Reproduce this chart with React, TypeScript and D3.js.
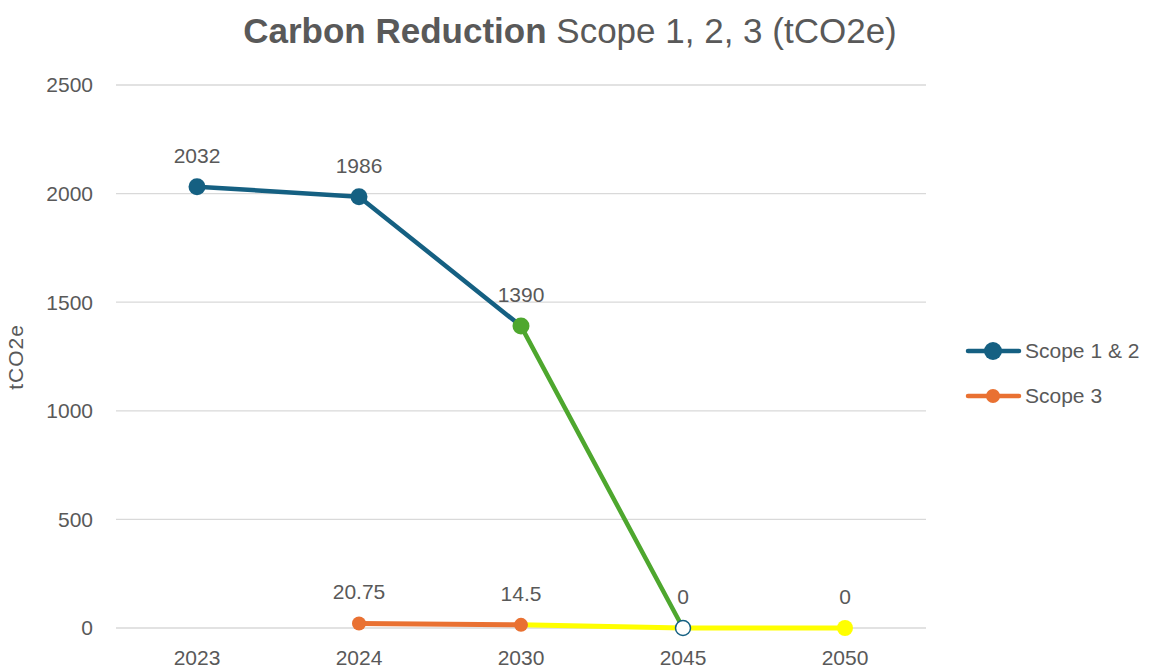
import { useEffect, useRef } from "react";
import * as d3 from "d3";

const years = ["2023", "2024", "2030", "2045", "2050"];
const scope12 = [2032, 1986, 1390, 0, null];
const scope3 = [null, 20.75, 14.5, 0, 0];
const yTicks = [0, 500, 1000, 1500, 2000, 2500];
const seriesNames = ["Scope 1 & 2", "Scope 3"];

// marker colour per point, and colour of the segment that ends at that point
const scope12Marker = ["#156082", "#156082", "#4EA72E", "#FFFFFF", "#FFFF00"];
const scope12Segment = ["#156082", "#156082", "#156082", "#4EA72E", "#FFFF00"];
const scope3Marker = ["#E97132", "#E97132", "#E97132", "#FFFF00", "#FFFF00"];
const scope3Segment = ["#E97132", "#E97132", "#E97132", "#FFFF00", "#FFFF00"];

const TEXT = "#595959";
const FONT = "'Liberation Sans', Arial, sans-serif";
const FS = 21;

export default function App() {
  const ref = useRef<SVGSVGElement>(null);

  useEffect(() => {
    const svg = d3.select(ref.current);
    svg.selectAll("*").remove();

    const width = 1153, height = 668;
    const margin = { top: 85, right: 227, bottom: 40, left: 116 };

    const x = d3.scaleBand().domain(years).range([margin.left, width - margin.right]);
    const y = d3.scaleLinear().domain([0, 2500]).range([height - margin.bottom, margin.top]);
    const cx = (yr: string) => (x(yr) as number) + x.bandwidth() / 2;

    svg.append("rect").attr("width", width).attr("height", height).attr("fill", "#fff");

    // title
    const title = svg.append("text")
      .attr("x", 570).attr("y", 43)
      .attr("text-anchor", "middle")
      .attr("font-family", FONT)
      .attr("font-size", 35)
      .attr("fill", TEXT);
    title.append("tspan").attr("font-weight", "bold").text("Carbon Reduction");
    title.append("tspan").text(" Scope 1, 2, 3 (tCO2e)");

    // grid
    svg.append("g").selectAll("line").data(yTicks).join("line")
      .attr("x1", margin.left).attr("x2", width - margin.right)
      .attr("y1", d => y(d)).attr("y2", d => y(d))
      .attr("stroke", "#d9d9d9").attr("stroke-width", 1.3);

    // y labels
    svg.append("g").selectAll("text").data(yTicks).join("text")
      .attr("x", 93).attr("y", d => y(d)).attr("dy", "0.35em")
      .attr("text-anchor", "end")
      .attr("font-family", FONT).attr("font-size", FS).attr("fill", TEXT)
      .text(d => d);

    // x labels
    svg.append("g").selectAll("text").data(years).join("text")
      .attr("x", d => cx(d)).attr("y", 665)
      .attr("text-anchor", "middle")
      .attr("font-family", FONT).attr("font-size", FS).attr("fill", TEXT)
      .text(d => d);

    // y title
    svg.append("text")
      .attr("transform", `translate(16,357) rotate(-90)`)
      .attr("dy", "0.35em")
      .attr("text-anchor", "middle")
      .attr("font-family", FONT).attr("font-size", FS).attr("fill", TEXT)
      .attr("letter-spacing", 1)
      .text("tCO2e");

    const drawSegments = (vals: (number | null)[], colors: string[], lw: number) => {
      const g = svg.append("g");
      for (let i = 1; i < vals.length; i++) {
        const a = vals[i - 1], b = vals[i];
        if (a == null || b == null) continue;
        g.append("line")
          .attr("x1", cx(years[i - 1])).attr("y1", y(a))
          .attr("x2", cx(years[i])).attr("y2", y(b))
          .attr("stroke", colors[i]).attr("stroke-width", lw)
          .attr("stroke-linecap", "round");
      }
      return g;
    };

    const label = (g: any, i: number, v: number) =>
      g.append("text")
        .attr("x", cx(years[i])).attr("y", y(v) - 24)
        .attr("text-anchor", "middle")
        .attr("font-family", FONT).attr("font-size", FS).attr("fill", TEXT)
        .text(v);

    // Scope 3
    const g3 = drawSegments(scope3, scope3Segment, 5);
    scope3.forEach((v, i) => {
      if (v == null) return;
      if (i !== 3) {
        g3.append("circle").attr("cx", cx(years[i])).attr("cy", y(v)).attr("r", i === 4 ? 8 : 7)
          .attr("fill", scope3Marker[i]);
      }
      label(g3, i, v);
    });

    // Scope 1 & 2
    const g12 = drawSegments(scope12, scope12Segment, 4.5);
    scope12.forEach((v, i) => {
      if (v == null) return;
      const hollow = scope12Marker[i] === "#FFFFFF";
      g12.append("circle").attr("cx", cx(years[i])).attr("cy", y(v)).attr("r", hollow ? 7.5 : 8.5)
        .attr("fill", scope12Marker[i])
        .attr("stroke", hollow ? "#156082" : "none")
        .attr("stroke-width", 1.5);
      if (!hollow) label(g12, i, v);
    });

    // legend
    const legend = svg.append("g");
    const legendColors = ["#156082", "#E97132"];
    const legendR = [9, 7];
    seriesNames.forEach((name, i) => {
      const ly = 351 + i * 45;
      legend.append("line").attr("x1", 968).attr("x2", 1019).attr("y1", ly).attr("y2", ly)
        .attr("stroke", legendColors[i]).attr("stroke-width", 4.5).attr("stroke-linecap", "round");
      legend.append("circle").attr("cx", 993).attr("cy", ly).attr("r", legendR[i]).attr("fill", legendColors[i]);
      legend.append("text").attr("x", 1025).attr("y", ly).attr("dy", "0.35em")
        .attr("font-family", FONT).attr("font-size", FS).attr("fill", TEXT)
        .text(name);
    });
  }, []);

  return (
    <svg ref={ref} width={1153} height={668} style={{ position: "absolute", left: 0, top: 0 }} />
  );
}
